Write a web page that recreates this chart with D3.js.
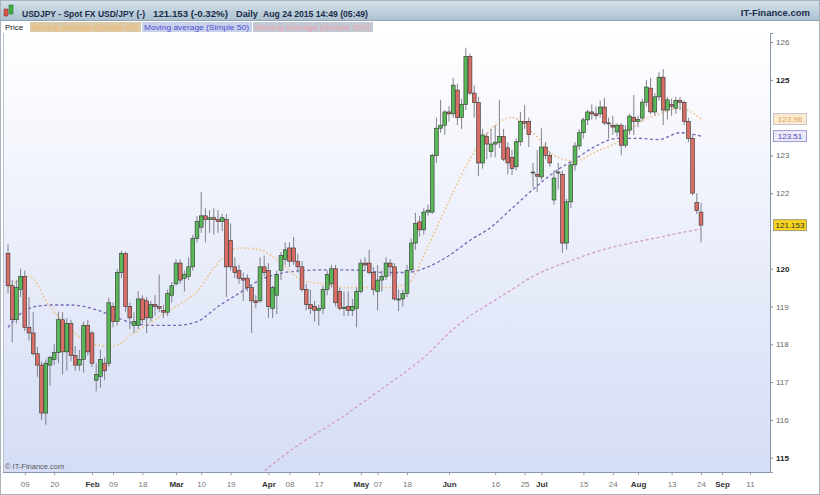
<!DOCTYPE html>
<html><head><meta charset="utf-8">
<script src="https://cdn.jsdelivr.net/npm/d3@7"></script>
<style>body{margin:0;background:#fff;} svg{display:block;font-family:"Liberation Sans",Arial,sans-serif;}</style>
</head><body><svg id="c" width="820" height="495"></svg>
<script>
// ---- data (USDJPY daily, Jan 5 2015 .. Aug 24 2015) ----
const opens = [120.40,119.55,118.65,119.45,119.80,118.45,118.30,117.75,117.45,116.18,117.45,117.60,117.78,118.65,117.80,118.55,117.70,117.45,117.60,118.50,118.30,117.05,117.15,117.50,117.50,119.00,118.60,119.90,120.40,119.00,118.50,118.50,119.20,119.15,118.70,119.05,119.00,118.90,118.85,119.30,119.60,120.15,119.75,119.80,120.05,120.80,121.10,121.40,121.30,121.35,121.30,121.25,121.30,120.75,120.05,119.95,119.75,119.75,119.50,119.15,119.15,120.05,119.95,118.95,119.30,119.95,120.25,120.55,120.55,120.20,120.05,119.45,119.05,119.00,118.90,118.95,119.45,119.60,120.00,119.40,118.95,119.00,118.90,118.95,119.40,120.15,120.15,119.90,119.40,119.70,119.80,120.15,120.05,119.20,119.20,119.35,119.97,120.68,121.24,121.03,121.50,121.50,123.00,123.72,123.80,124.15,124.10,124.73,124.00,124.35,125.62,124.65,124.40,122.80,123.50,123.10,123.30,123.35,123.50,123.20,122.95,122.70,123.36,123.90,123.90,122.55,122.50,122.43,123.22,123.00,121.82,122.55,122.50,120.68,121.77,122.75,123.25,123.60,123.94,124.15,124.10,124.10,124.28,123.86,123.80,123.62,123.80,123.27,123.67,124.00,123.90,123.99,124.41,124.78,124.15,124.55,125.07,124.20,124.35,124.25,124.45,124.40,123.90,123.45,121.75,121.50];
const highs = [120.65,119.70,119.70,120.00,119.95,119.25,118.85,117.93,117.55,117.60,117.70,118.00,118.85,118.85,118.70,118.65,117.95,117.85,118.60,118.65,118.35,117.50,117.85,117.65,119.23,119.10,120.00,120.48,120.45,119.10,118.85,119.40,119.30,119.25,119.15,119.30,119.85,119.05,119.45,119.65,120.25,120.25,119.95,120.30,120.90,121.40,122.03,121.60,121.55,121.60,121.55,121.45,121.45,121.20,120.30,120.10,119.90,119.85,119.55,119.30,120.30,120.35,120.15,119.55,119.95,120.44,120.70,120.70,120.84,120.40,120.20,119.60,119.45,119.15,119.05,119.55,119.95,120.10,120.10,119.50,119.40,119.40,119.20,119.50,120.25,120.30,120.50,120.05,120.10,119.95,120.30,120.25,120.15,119.45,119.45,120.10,120.80,121.48,121.40,121.60,121.70,123.05,124.00,124.47,124.20,124.30,125.05,124.90,124.50,125.85,125.70,124.85,124.55,123.70,123.60,123.70,123.80,124.47,123.70,123.35,123.15,123.45,124.15,124.33,124.00,122.80,123.14,123.72,123.35,123.10,122.60,122.80,122.60,121.85,122.85,123.35,123.70,124.00,124.20,124.35,124.30,124.45,124.52,124.00,124.05,123.85,123.85,123.80,124.10,124.60,124.05,124.50,125.00,125.05,124.65,125.20,125.28,124.55,124.50,124.55,124.55,124.45,124.00,123.55,122.00,121.75];
const lows = [119.35,118.05,118.55,119.25,118.35,118.10,117.70,117.14,116.00,115.87,116.90,117.45,117.50,117.20,117.30,117.55,117.30,117.30,117.25,117.70,117.40,116.75,116.85,117.05,117.40,118.45,118.50,119.75,118.85,118.40,118.30,118.40,118.55,118.30,118.60,118.75,118.85,118.70,118.75,119.10,119.55,119.60,119.40,119.70,119.95,120.70,120.95,120.70,120.95,120.90,120.95,121.00,119.25,119.95,119.75,119.60,119.15,119.40,118.30,118.95,119.10,119.80,118.70,118.70,118.80,119.70,120.10,120.05,120.10,119.90,119.40,118.90,118.80,118.60,118.50,118.80,119.30,119.50,119.00,118.90,118.75,118.75,118.75,118.45,119.35,119.95,119.85,119.30,118.90,119.40,119.70,119.80,119.15,118.88,119.00,119.25,119.90,120.50,120.85,120.90,121.40,121.45,122.80,123.60,123.55,123.90,124.00,123.80,123.70,124.20,124.60,124.00,122.45,122.65,122.90,122.95,122.95,123.20,122.85,122.50,122.48,122.60,123.25,123.70,123.22,122.16,122.03,122.35,122.90,122.70,121.70,122.10,120.42,120.50,121.60,122.60,123.15,123.45,123.80,123.95,123.95,124.00,123.80,123.45,123.55,123.50,123.00,123.20,123.55,123.54,123.75,123.90,124.30,124.10,124.05,124.45,123.80,123.95,124.05,124.10,124.20,123.80,123.35,121.95,121.45,120.70];
const closes = [119.55,118.65,119.50,119.80,118.45,118.30,117.75,117.45,116.18,117.50,117.65,117.78,118.65,117.80,118.55,117.70,117.45,117.60,118.50,117.80,117.50,117.20,117.60,117.30,119.10,118.60,119.90,120.40,119.00,118.70,118.60,119.20,118.65,118.70,119.05,119.00,118.95,118.85,119.35,119.55,120.15,119.70,119.85,120.05,120.80,121.25,121.40,121.30,121.35,121.30,121.25,121.35,120.05,120.05,119.90,119.75,119.70,119.50,119.15,119.10,120.05,119.90,119.00,119.50,119.85,120.35,120.50,120.20,120.20,120.05,119.45,119.05,118.95,118.90,118.95,119.45,119.85,120.00,119.10,118.95,118.98,118.90,119.00,119.40,120.15,120.10,119.90,119.45,119.70,119.80,120.15,120.05,119.20,119.20,119.35,119.95,120.68,121.20,121.03,121.50,121.55,123.00,123.72,123.80,124.15,124.10,124.86,124.00,124.35,125.62,124.65,124.40,122.80,123.54,123.30,123.30,123.35,123.50,122.90,122.80,122.65,123.36,123.90,123.85,123.55,122.56,122.45,123.22,123.00,122.80,122.40,122.56,120.68,121.77,122.75,123.25,123.60,123.94,124.15,124.10,124.05,124.28,123.86,123.85,123.75,123.80,123.27,123.67,124.04,123.90,123.95,124.41,124.81,124.15,124.55,125.07,124.20,124.47,124.30,124.45,124.40,123.90,123.45,122.00,121.54,121.153];

// moving averages at every 5th trading day
const maDays = [0,5,10,15,20,25,30,35,40,45,50,55,60,65,70,75,80,85,90,95,100,105,110,115,120,125,130,135,140,145,150,155,160,165];
const sma20 = [119.5,119.8,119.0,118.4,118.0,117.95,118.3,118.65,119.0,119.4,120.15,120.55,120.5,120.15,119.7,119.6,119.5,119.5,119.5,119.6,120.6,121.8,122.9,123.7,124.0,123.6,123.0,122.85,123.1,123.35,123.85,124.1,124.25,123.96];
const sma50 = [118.45,118.95,119.04,119.04,118.95,118.75,118.55,118.5,118.5,118.6,119.0,119.35,119.7,119.88,119.95,119.97,119.97,119.95,119.9,119.9,120.05,120.35,120.75,121.1,121.6,122.1,122.55,122.9,123.25,123.45,123.45,123.42,123.6,123.51];
const sma200Days = [55,60,65,70,75,80,85,90,95,100,105,110,115,120,125,130,135,140,145,150,155,160,165];
const sma200 = [114.1,114.55,115.0,115.4,115.75,116.1,116.5,116.9,117.3,117.75,118.3,118.75,119.1,119.45,119.8,120.05,120.25,120.45,120.6,120.72,120.83,120.95,121.05];

const yTickShown = [115,116,117,118,119,120,122,123,125,126];
const xTickDates = ["2015-01-09","2015-01-20","2015-02-02","2015-02-09","2015-02-18","2015-03-02","2015-03-10","2015-03-19","2015-04-01","2015-04-08","2015-04-17","2015-05-01","2015-05-07","2015-05-18","2015-06-01","2015-06-16","2015-06-25","2015-07-01","2015-07-15","2015-07-24","2015-08-03","2015-08-13","2015-08-24","2015-09-01","2015-09-11"];
const xTickLabels = ["09","20","Feb","09","18","Mar","10","19","Apr","08","17","May","07","18","Jun","16","25","Jul","15","24","Aug","13","24","Sep","11"];
const lastValues = [123.96, 123.51, 121.153];

// ---- layout ----
const svg = d3.select("#c");
const W = 820, H = 495;
const plot = {l:3, r:770, t:33, b:472};

// trading days (weekdays) used as category positions
const days = d3.timeDay.range(new Date(2015,0,5), new Date(2015,8,12)).filter(d => d.getDay() % 6 !== 0);
const fmt = d3.timeFormat("%Y-%m-%d");
const dayIndex = new Map(days.map((d,i) => [fmt(d), i]));
const lastIdx = closes.length - 1;

const x = d3.scaleLinear().domain([0, lastIdx, days.length - 1]).range([8, 701, 750]);
const y = d3.scaleLinear().domain([114.62, 126.24]).range([plot.b, plot.t]);

const defs = svg.append("defs");
const g1 = defs.append("linearGradient").attr("id","hdr").attr("x1",0).attr("y1",0).attr("x2",0).attr("y2",1);
g1.append("stop").attr("offset","0%").attr("stop-color","#d6e3ec");
g1.append("stop").attr("offset","100%").attr("stop-color","#adc2d1");
const g2 = defs.append("linearGradient").attr("id","bg").attr("x1",0).attr("y1",0).attr("x2",0).attr("y2",1);
g2.append("stop").attr("offset","0%").attr("stop-color","#ffffff");
g2.append("stop").attr("offset","100%").attr("stop-color","#d5ddf6");
defs.append("clipPath").attr("id","clip").append("rect")
  .attr("x",plot.l).attr("y",plot.t).attr("width",plot.r-plot.l).attr("height",plot.b-plot.t);

svg.append("rect").attr("width",W).attr("height",H).attr("fill","#fff");

// header
svg.append("rect").attr("x",0).attr("y",0).attr("width",W).attr("height",20).attr("fill","url(#hdr)");
svg.append("line").attr("x1",0).attr("x2",W).attr("y1",20.5).attr("y2",20.5).attr("stroke","#8ea3b3");
svg.append("rect").attr("x",4).attr("y",9).attr("width",4).attr("height",7).attr("fill","#d9534f").attr("stroke","#7a2a2a").attr("stroke-width",0.5);
svg.append("rect").attr("x",9).attr("y",5).attr("width",4).attr("height",9).attr("fill","#3cb043").attr("stroke","#1f5f22").attr("stroke-width",0.5);
const hdrTexts = [["USDJPY - Spot FX USD/JPY (-)",22,123],["121.153 (-0.32%)",153,75],["Daily",236,22],["Aug 24 2015 14:49 (05:49)",263,105]];
hdrTexts.forEach(t => svg.append("text").attr("x",t[1]).attr("y",17).attr("font-size",9.5).attr("font-weight","bold")
  .attr("fill","#1b2c48").attr("textLength",t[2]).attr("lengthAdjust","spacingAndGlyphs").text(t[0]));
svg.append("text").attr("x",810).attr("y",16).attr("text-anchor","end").attr("font-size",9.5).attr("font-weight","bold")
  .attr("fill","#1b2c48").text("IT-Finance.com");

// legend row
svg.append("text").attr("x",5).attr("y",30).attr("font-size",8).attr("fill","#222").text("Price");
const legend = [
  {x:30,w:111,fill:"#dccaa6",color:"#f3b66e",text:"Moving average (Simple 20)"},
  {x:142,w:110,fill:"#c9d0ea",color:"#4d4ed2",text:"Moving average (Simple 50)"},
  {x:253,w:120,fill:"#c2c9d2",color:"#eea3b2",text:"Moving average (Simple 200)"}
];
legend.forEach(l => {
  svg.append("rect").attr("x",l.x).attr("y",22).attr("width",l.w).attr("height",10).attr("fill",l.fill);
  svg.append("text").attr("x",l.x+2).attr("y",30).attr("font-size",8).attr("fill",l.color)
    .attr("textLength",l.w-5).attr("lengthAdjust","spacingAndGlyphs").text(l.text);
});

// plot background
svg.append("rect").attr("x",plot.l).attr("y",plot.t).attr("width",plot.r-plot.l).attr("height",plot.b-plot.t).attr("fill","url(#bg)");
svg.append("line").attr("x1",plot.l+0.5).attr("x2",plot.l+0.5).attr("y1",plot.t).attr("y2",plot.b).attr("stroke","#b8c2d0");

const pg = svg.append("g").attr("clip-path","url(#clip)");

// moving averages
const line = d3.line().x(d => x(d[0])).y(d => y(d[1])).curve(d3.curveMonotoneX);
pg.append("path").datum(sma200Days.map((d,i)=>[d,sma200[i]])).attr("d",line)
  .attr("fill","none").attr("stroke","#d49cc2").attr("stroke-width",1.3).attr("stroke-dasharray","3,2.5");
pg.append("path").datum(maDays.map((d,i)=>[d,sma50[i]])).attr("d",line)
  .attr("fill","none").attr("stroke","#7467b5").attr("stroke-width",1.3).attr("stroke-dasharray","3,2.5");
pg.append("path").datum(maDays.map((d,i)=>[d,sma20[i]])).attr("d",line)
  .attr("fill","none").attr("stroke","#f1c68e").attr("stroke-width",1.7).attr("stroke-dasharray","1.6,2.2");

// candles
const idx = d3.range(closes.length);
const bw = 3.8;
pg.append("g").selectAll("line").data(idx).join("line")
  .attr("x1",i=>x(i)).attr("x2",i=>x(i)).attr("y1",i=>y(highs[i])).attr("y2",i=>y(lows[i]))
  .attr("stroke","#80818c").attr("stroke-width",1);
pg.append("g").selectAll("rect").data(idx).join("rect")
  .attr("x",i=>x(i)-bw/2).attr("width",bw)
  .attr("y",i=>y(Math.max(opens[i],closes[i])))
  .attr("height",i=>Math.max(1,Math.abs(y(opens[i])-y(closes[i]))))
  .attr("fill",i=>closes[i]>=opens[i]?"#58b858":"#d86d66")
  .attr("stroke","#333").attr("stroke-width",0.6);

// copyright
svg.append("text").attr("x",5).attr("y",469).attr("font-size",7.5).attr("fill","#555").text("\u00a9 IT-Finance.com");

// right axis
const ya = svg.append("g").attr("transform",`translate(${plot.r},0)`)
  .call(d3.axisRight(y).tickValues(yTickShown).tickSize(3).tickPadding(3).tickFormat(d3.format("d")));
ya.select(".domain").attr("stroke","#8797aa");
ya.selectAll(".tick line").attr("stroke","#888");
ya.selectAll(".tick text").attr("font-size",8).attr("font-family","Liberation Sans, Arial, sans-serif")
  .attr("fill",d=>d%5===0?"#222":"#666").attr("font-weight",d=>d%5===0?"bold":"normal");
svg.append("line").attr("x1",plot.l).attr("x2",plot.r).attr("y1",plot.b+0.5).attr("y2",plot.b+0.5).attr("stroke","#8797aa");

// last value labels
const lbl = [
  {v:lastValues[0],fill:"#fdebcf",stroke:"#b9b6c8",color:"#d9a35e",t:"123.96"},
  {v:lastValues[1],fill:"#ece9fb",stroke:"#8b84c6",color:"#4f49b5",t:"123.51"},
  {v:lastValues[2],fill:"#f6d31c",stroke:"#8d8a7a",color:"#333",t:"121.153"}
];
lbl.forEach(l => {
  const yy = y(l.v);
  svg.append("rect").attr("x",773.5).attr("y",yy-5.5).attr("width",33).attr("height",11)
    .attr("fill",l.fill).attr("stroke",l.stroke).attr("stroke-width",0.8);
  svg.append("text").attr("x",790).attr("y",yy+3).attr("text-anchor","middle").attr("font-size",8)
    .attr("fill",l.color).text(l.t);
});

// bottom axis
const tickIdx = xTickDates.map(s => dayIndex.get(s));
const xa = svg.append("g").attr("transform",`translate(0,${plot.b})`)
  .call(d3.axisBottom(x).tickValues(tickIdx).tickSize(3).tickPadding(6).tickFormat((d,i)=>xTickLabels[i]));
xa.select(".domain").remove();
xa.selectAll(".tick line").attr("stroke","#999");
xa.selectAll(".tick text").attr("font-size",8).attr("font-family","Liberation Sans, Arial, sans-serif")
  .attr("fill",(d,i)=>/^[A-Z]/.test(xTickLabels[i])?"#333":"#777")
  .attr("font-weight",(d,i)=>/^[A-Z]/.test(xTickLabels[i])?"bold":"normal");

// outer frame
svg.append("rect").attr("x",0.5).attr("y",0.5).attr("width",W-1).attr("height",H-1).attr("fill","none").attr("stroke","#a9b3bd");
</script></body></html>
